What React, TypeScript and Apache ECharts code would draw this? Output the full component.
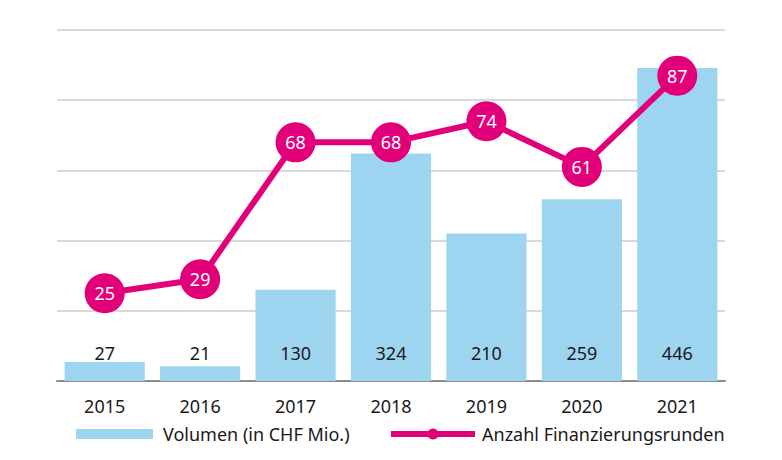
import { useEffect, useRef } from 'react'

import * as echarts from 'echarts'

const years = ['2015', '2016', '2017', '2018', '2019', '2020', '2021']
const volumen = [27, 21, 130, 324, 210, 259, 446]
const runden = [25, 29, 68, 68, 74, 61, 87]

const volumenName = 'Volumen (in CHF Mio.)'
const rundenName = 'Anzahl Finanzierungsrunden'

const blue = '#9dd5f1'
const magenta = '#e2007a'
const font = '"Noto Sans", "Open Sans", sans-serif'

const App = () => {
  const main = useRef(null)
  useEffect(() => {
    const option = {
      animation: false,
      textStyle: { fontFamily: font },
      grid: {
        // fixed box so the gridlines sit where the original has them
        left: 57,
        right: 57,
        top: 30,
        bottom: 79,
      },
      legend: [
        {
          data: [volumenName],
          left: 71,
          top: 420,
          icon: 'rect',
          itemWidth: 77,
          itemHeight: 10,
          textStyle: { fontSize: 18, color: '#1a1a1a', fontFamily: font, padding: [0, 0, 0, 5] },
        },
        {
          data: [rundenName],
          left: 383,
          top: 420,
          itemWidth: 84,
          itemHeight: 14,
          lineStyle: { width: 6 },
          textStyle: { fontSize: 18, color: '#1a1a1a', fontFamily: font, padding: [0, 0, 0, 2] },
        },
      ],
      xAxis: {
        type: 'category',
        data: years,
        axisTick: { show: false },
        axisLine: { lineStyle: { color: '#8c8c8c', width: 2 } },
        axisLabel: { fontSize: 18, color: '#1a1a1a', margin: 16, fontFamily: font },
      },
      yAxis: [
        {
          type: 'value',
          min: 0,
          max: 500,
          interval: 100,
          axisLabel: { show: false },
          axisLine: { show: false },
          axisTick: { show: false },
          splitLine: { lineStyle: { color: '#d9d9d9', width: 2 } },
        },
        {
          type: 'value',
          min: 0,
          max: 100,
          interval: 20,
          axisLabel: { show: false },
          axisLine: { show: false },
          axisTick: { show: false },
          splitLine: { show: false },
        },
      ],
      series: [
        {
          name: volumenName,
          type: 'bar',
          data: volumen,
          barCategoryGap: '16%',
          itemStyle: { color: blue },
          label: {
            show: true,
            position: 'insideBottom',
            distance: 19,
            fontSize: 18,
            color: '#1a1a1a',
            fontFamily: font,
          },
        },
        {
          name: rundenName,
          type: 'line',
          yAxisIndex: 1,
          data: runden,
          symbol: 'circle',
          symbolSize: 40,
          itemStyle: { color: magenta },
          lineStyle: { color: magenta, width: 6 },
          label: {
            show: true,
            position: 'inside',
            fontSize: 18,
            color: '#ffffff',
            fontFamily: font,
          },
          z: 3,
        },
      ],
    }
    const myCharts = echarts.init(main.current, null, { renderer: 'svg' })
    myCharts.setOption(option)
    return () => {
      myCharts.dispose()
    }
  }, [])
  return (
    <>
      <div
        ref={main}
        style={{ position: 'fixed', left: 0, top: 0, width: '782px', height: '460px', background: '#fff' }}
      ></div>
    </>
  )
}

export default App
